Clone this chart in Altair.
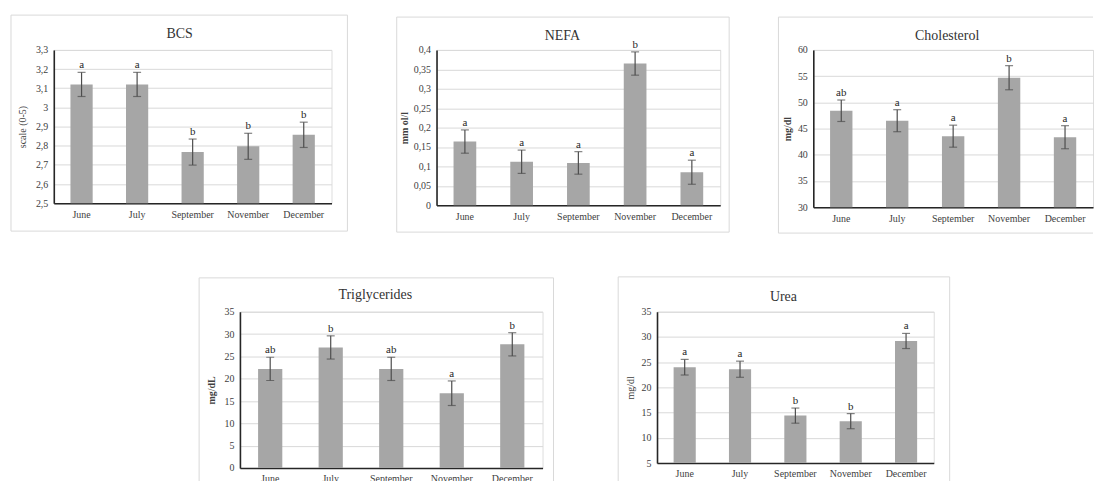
import altair as alt
import pandas as pd

months = ["June", "July", "September", "November", "December"]

bcs_mean = [3.12, 3.12, 2.767, 2.797, 2.857]
bcs_err = [0.063, 0.063, 0.068, 0.068, 0.066]
bcs_letters = ["a", "a", "b", "b", "b"]

nefa_mean = [0.164, 0.112, 0.109, 0.365, 0.085]
nefa_err = [0.030, 0.030, 0.029, 0.030, 0.031]
nefa_letters = ["a", "a", "a", "b", "a"]

chol_mean = [48.4, 46.5, 43.55, 54.7, 43.35]
chol_err = [2.05, 2.1, 2.1, 2.3, 2.2]
chol_letters = ["ab", "a", "a", "b", "a"]

trig_mean = [22.2, 27.0, 22.2, 16.75, 27.7]
trig_err = [2.6, 2.6, 2.6, 2.75, 2.6]
trig_letters = ["ab", "b", "ab", "a", "b"]

urea_mean = [24.0, 23.6, 14.4, 13.3, 29.2]
urea_err = [1.55, 1.6, 1.5, 1.5, 1.5]
urea_letters = ["a", "a", "b", "b", "a"]

SERIF = "Liberation Serif"
FRAME = "#d9d9d9"
ONE = pd.DataFrame({"k": [0]})


def frame_layer(width, height, frame, right_edge=True):
    left, right, top, bottom = frame
    x0, x1 = left, width + right
    y0, y1 = top, height + bottom
    parts = [
        alt.Chart(ONE).mark_rule(color=FRAME, strokeWidth=1).encode(
            x=alt.value(x0), y=alt.value(y0), y2=alt.value(y1)),
        alt.Chart(ONE).mark_rule(color=FRAME, strokeWidth=1).encode(
            x=alt.value(x0), x2=alt.value(x1), y=alt.value(y0)),
        alt.Chart(ONE).mark_rule(color=FRAME, strokeWidth=1).encode(
            x=alt.value(x0), x2=alt.value(x1), y=alt.value(y1)),
    ]
    if right_edge:
        parts.append(alt.Chart(ONE).mark_rule(color=FRAME, strokeWidth=1).encode(
            x=alt.value(x1), y=alt.value(y0), y2=alt.value(y1)))
    return parts


def panel(title, ytitle, mean, err, letters, domain, ticks, width, height,
          frame, title_dx, title_y, ytitle_x, ytitle_bold, right_edge=True):
    df = pd.DataFrame({
        "month": months,
        "mean": mean,
        "lo": [m - e for m, e in zip(mean, err)],
        "hi": [m + e for m, e in zip(mean, err)],
        "letter": letters,
    })
    base = alt.Chart(df)
    xenc = alt.X(
        "month:N", sort=months,
        scale=alt.Scale(paddingInner=0.6, paddingOuter=0.3),
        axis=alt.Axis(title=None, labelAngle=0, ticks=False, domainColor="#262626",
                      domainWidth=1.6, labelFont=SERIF, labelFontSize=10,
                      labelColor="#404040", labelPadding=6),
    )
    yscale = alt.Scale(domain=domain, nice=False, zero=False)
    yaxis = alt.Axis(
        values=ticks,
        labelExpr="replace(format(datum.value, '~g'), '.', ',')",
        grid=True, gridColor="#d9d9d9", gridWidth=1, ticks=False,
        domainColor="#262626", domainWidth=1.6,
        labelFont=SERIF, labelFontSize=10, labelColor="#404040", labelPadding=6,
        title=ytitle, titleFont=SERIF, titleFontSize=10,
        titleFontWeight="bold" if ytitle_bold else "normal",
        titleColor="#404040", titleX=-ytitle_x, titleY=height / 2,
        titleBaseline="middle", titleAlign="center",
    )

    def yenc(field):
        return alt.Y(field, scale=yscale, axis=yaxis)

    bars = base.mark_bar(color="#a6a6a6").encode(
        x=xenc, y=yenc("mean:Q"), y2=alt.datum(domain[0])
    )
    rules = base.mark_rule(color="#4d4d4d", strokeWidth=1.2).encode(
        x=xenc, y=yenc("lo:Q"), y2="hi:Q"
    )
    cap_lo = base.mark_tick(color="#4d4d4d", size=8, thickness=1.2, orient="horizontal").encode(
        x=xenc, y=yenc("lo:Q")
    )
    cap_hi = base.mark_tick(color="#4d4d4d", size=8, thickness=1.2, orient="horizontal").encode(
        x=xenc, y=yenc("hi:Q")
    )
    txt = base.mark_text(font=SERIF, fontSize=11, dy=-4, baseline="alphabetic",
                         color="#262626").encode(
        x=xenc, y=yenc("hi:Q"), text="letter:N"
    )
    ttl = alt.Chart(ONE).mark_text(
        text=title, font=SERIF, fontSize=14, color="#333333",
        align="center", baseline="middle"
    ).encode(x=alt.value(width / 2 + title_dx), y=alt.value(title_y))
    layers = frame_layer(width, height, frame, right_edge) + [bars, rules, cap_lo, cap_hi, txt, ttl]
    return alt.layer(*layers).properties(width=width, height=height)


p1 = panel("BCS", "scale (0-5)", bcs_mean, bcs_err, bcs_letters, [2.5, 3.3],
           [2.5, 2.6, 2.7, 2.8, 2.9, 3.0, 3.1, 3.2, 3.3], 279, 154,
           (-43, 16, -35, 28), -13, -16, 31, False)
p2 = panel("NEFA", "mm ol/l", nefa_mean, nefa_err, nefa_letters, [0, 0.4],
           [0, 0.05, 0.1, 0.15, 0.2, 0.25, 0.3, 0.35, 0.4], 285, 156,
           (-40, 9, -33, 27), -16, -14, 32, True)
p3 = panel("Cholesterol", "mg/dl", chol_mean, chol_err, chol_letters, [30, 60],
           [30, 35, 40, 45, 50, 55, 60], 281, 158,
           (-35, 0, -33, 26), -6, -14, 26, True, right_edge=False)
p4 = panel("Triglycerides", "mg/dL", trig_mean, trig_err, trig_letters, [0, 35],
           [0, 5, 10, 15, 20, 25, 30, 35], 304, 157,
           (-41, 11, -34, 28), -16, -17, 29, True)
p5 = panel("Urea", "mg/dl", urea_mean, urea_err, urea_letters, [5, 35],
           [5, 10, 15, 20, 25, 30, 35], 278, 152,
           (-39, 16, -35, 28), -12, -15, 27, False)

spacer = alt.Chart(ONE).mark_text(text=" ", color="white", opacity=0).encode(
    x=alt.value(0), y=alt.value(0)
).properties(width=82, height=1,
             view=alt.ViewBackground(stroke="transparent", strokeOpacity=0))

top = alt.hconcat(p1, p2, p3, spacing=47.5)
bottom = alt.hconcat(spacer, p4, p5, spacing=63)

chart = alt.vconcat(top, bottom, spacing=42).properties(
    padding={"left": 2, "top": 5, "right": 0, "bottom": 0}
).configure_view(stroke=None).configure(background="white")

chart.save("out.html", embed_options={"renderer": "svg", "actions": False})
